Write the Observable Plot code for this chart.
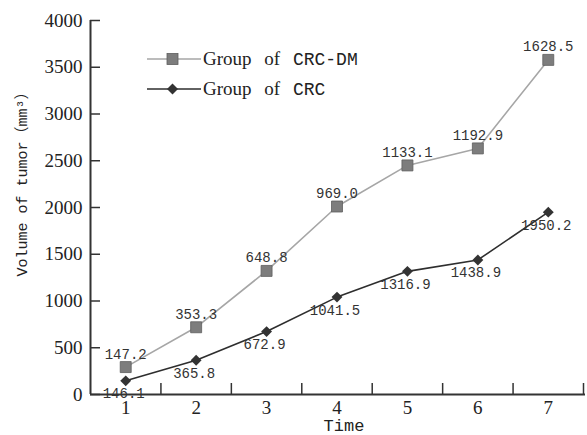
<!DOCTYPE html>
<html><head><meta charset="utf-8">
<script src="https://cdn.jsdelivr.net/npm/d3@7"></script>
<script src="https://cdn.jsdelivr.net/npm/@observablehq/plot@0.6"></script>
<style>
body{margin:0;background:#fff}
#wrap{position:relative;width:587px;height:435px}
.lg{position:absolute;left:147px;display:flex;align-items:center;font-family:"Liberation Serif",serif;font-size:19px;color:#222;white-space:nowrap;word-spacing:8px}
.lg svg{display:block;margin-right:2px}
.mono{font-family:"Liberation Mono",monospace;font-size:18px;word-spacing:0}
</style></head><body>
<div id="wrap"><div id="chart"></div>
<div class="lg" style="top:48px"><svg width="54" height="14"><line x1="0" y1="7" x2="54" y2="7" stroke="#a6a6a6" stroke-width="1.6"/><rect x="20" y="1.5" width="11" height="11" fill="#7d7d7d" stroke="#5e5e5e" stroke-width="0.8"/></svg><span>Group of <span class="mono">CRC-DM</span></span></div>
<div class="lg" style="top:78px"><svg width="54" height="14"><line x1="0" y1="7" x2="54" y2="7" stroke="#2e2e2e" stroke-width="1.6"/><path d="M25.5 1.5 L31 7 L25.5 12.5 L20 7 Z" fill="#333"/></svg><span>Group of <span class="mono">CRC</span></span></div>
</div>
<script>
const times = [1, 2, 3, 4, 5, 6, 7];
const crcValues = [146.1, 365.8, 672.9, 1041.5, 1316.9, 1438.9, 1950.2];
const dmValues = [147.2, 353.3, 648.8, 969.0, 1133.1, 1192.9, 1628.5];
const yTicks = [0, 500, 1000, 1500, 2000, 2500, 3000, 3500, 4000];
const xBounds = [1.5, 2.5, 3.5, 4.5, 5.5, 6.5, 7.5];
const yTitle = "Volume of tumor（mm³）";
const xTitle = "Time";

// CRC-DM is drawn stacked on top of CRC, labelled with its own value
const crcRows = times.map((t, i) => ({time: t, y: crcValues[i], label: crcValues[i]}));
const dmRows = times.map((t, i) => ({time: t, y: crcValues[i] + dmValues[i], label: dmValues[i]}));

const axisColor = "#333";
const serif = "Liberation Serif";
const mono = "Liberation Mono, Noto Sans CJK SC";

const chart = Plot.plot({
  width: 587,
  height: 435,
  marginLeft: 90,
  marginRight: 4,
  marginTop: 20,
  marginBottom: 41,
  style: {fontFamily: serif, fontSize: "19px", color: "#222", background: "#fff"},
  x: {domain: [0.5, 7.5], axis: null},
  y: {domain: [0, 4000], axis: null},
  marks: [
    Plot.axisY(yTicks, {tickSize: 0, tickPadding: 8, tickFormat: d => String(d), label: null, fontFamily: serif, fontSize: 19, fill: "#222"}),
    Plot.axisX(times, {tickSize: 0, tickPadding: 6, tickFormat: d => String(d), label: null, fontFamily: serif, fontSize: 19, fill: "#222"}),
    Plot.ruleY(yTicks, {y: d => d, insetRight: 483, stroke: axisColor, strokeWidth: 1.5}),
    Plot.ruleX(xBounds, {x: d => d, insetTop: 363, stroke: axisColor, strokeWidth: 1.5}),
    Plot.ruleX([0.5], {stroke: axisColor, strokeWidth: 2}),
    Plot.ruleY([0], {stroke: axisColor, strokeWidth: 2, insetRight: -2}),
    Plot.line(dmRows, {x: "time", y: "y", stroke: "#a6a6a6", strokeWidth: 1.6}),
    Plot.line(crcRows, {x: "time", y: "y", stroke: "#2e2e2e", strokeWidth: 1.6}),
    Plot.dot(dmRows, {x: "time", y: "y", symbol: "square", r: 6.2, fill: "#7d7d7d", stroke: "#5e5e5e", strokeWidth: 0.8}),
    Plot.dot(crcRows, {x: "time", y: "y", symbol: "diamond2", r: 4.9, fill: "#333", stroke: "none"}),
    Plot.text(dmRows, {x: "time", y: "y", text: d => d.label.toFixed(1), dy: -13, fontFamily: mono, fontSize: 14, fill: "#333"}),
    Plot.text(crcRows, {x: "time", y: "y", text: d => d.label.toFixed(1), dy: 13, dx: -2, fontFamily: mono, fontSize: 14, fill: "#333"}),
    Plot.text([yTitle], {text: d => d, frameAnchor: "left", textAnchor: "middle", dx: -68, dy: -27, rotate: -90, fontFamily: mono, fontSize: 15, fill: "#222"}),
    Plot.text([xTitle], {text: d => d, frameAnchor: "bottom", dx: 7, dy: 36, fontFamily: mono, fontSize: 17, fill: "#222"})
  ]
});
document.getElementById("chart").appendChild(chart);
</script>
</body></html>
